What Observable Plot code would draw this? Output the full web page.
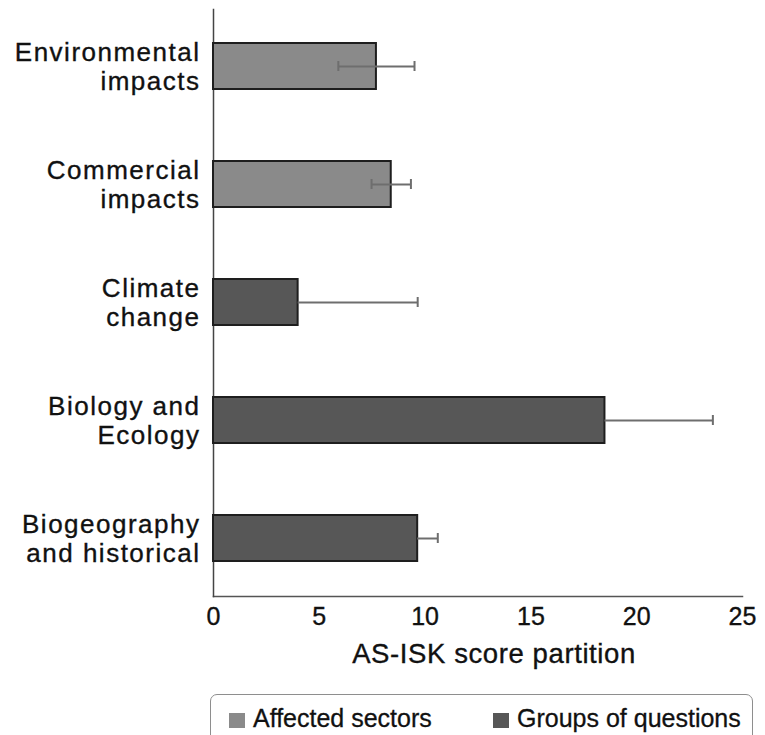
<!DOCTYPE html>
<html>
<head>
<meta charset="utf-8">
<script src="https://cdn.jsdelivr.net/npm/d3@7"></script>
<script src="https://cdn.jsdelivr.net/npm/@observablehq/plot@0.6"></script>
<style>
  body { margin: 0; background: #fff; font-family: "Liberation Sans", Arial, sans-serif; }
  #wrap { position: relative; width: 765px; height: 735px; overflow: hidden; }
  svg text { stroke: #111; stroke-width: 0.35px; }
  svg [aria-label="y-axis tick label"] text { letter-spacing: 1.5px; }
  .title { position: absolute; left: 294px; top: 640px; width: 400px; text-align: center;
    font-size: 27.5px; line-height: 27.5px; letter-spacing: 0.6px; color: #111; -webkit-text-stroke: 0.35px #111; }
  .legend { position: absolute; left: 210px; top: 694px; width: 543px; height: 60px;
    border: 1.5px solid #8e8e8e; border-radius: 7px; box-sizing: border-box; }
  .item { position: absolute; top: 11px; font-size: 25px; color: #111; line-height: 25px; -webkit-text-stroke: 0.3px #111; }
  .sw { display: inline-block; width: 16px; height: 15px; margin-right: 8px; vertical-align: -1px; }
</style>
</head>
<body>
<div id="wrap"></div>
<script>
const categories = ["Environmental\nimpacts", "Commercial\nimpacts", "Climate\nchange", "Biology and\nEcology", "Biogeography\nand historical"];
const groups = ["Affected sectors", "Affected sectors", "Groups of questions", "Groups of questions", "Groups of questions"];
const values = [7.7, 8.4, 4.0, 18.5, 9.65];
const errors = [1.8, 0.93, 5.65, 5.1, 0.95];
const xTicks = [0, 5, 10, 15, 20, 25];
const xTitle = "AS-ISK score partition";
const groupNames = ["Affected sectors", "Groups of questions"];
const groupColors = ["#8a8a8a", "#575757"];

const data = categories.map((c, i) => ({
  cat: c, group: groups[i], value: values[i],
  hi: values[i] + errors[i],
  lo: groups[i] === "Affected sectors" ? values[i] - errors[i] : values[i]
}));
const twoSided = data.filter(d => d.group === "Affected sectors");

const chart = Plot.plot({
  width: 765,
  height: 690,
  marginLeft: 213,
  marginRight: 23,
  marginTop: 9,
  marginBottom: 94,
  style: { fontFamily: "'Liberation Sans', Arial, sans-serif", background: "#fff", color: "#111" },
  x: { domain: [0, 25] },
  y: { domain: categories, paddingInner: 0.61, paddingOuter: 0.29 },
  color: { domain: groupNames, range: groupColors },
  marks: [
    Plot.frame({ anchor: "bottom", stroke: "#555", strokeWidth: 1.5 }),
    Plot.frame({ anchor: "left", stroke: "#444", strokeWidth: 1.5 }),
    Plot.barX(data, { x: "value", y: "cat", fill: "group", stroke: "#1e1e1e", strokeWidth: 2 }),
    Plot.ruleY(data, { y: "cat", x1: "lo", x2: "hi", stroke: "#6e6e6e", strokeWidth: 2 }),
    Plot.tickX(data, { x: "hi", y: "cat", stroke: "#6e6e6e", strokeWidth: 2, insetTop: 18, insetBottom: 18 }),
    Plot.tickX(twoSided, { x: "lo", y: "cat", stroke: "#6e6e6e", strokeWidth: 2, insetTop: 18, insetBottom: 18 }),
    Plot.axisY({ tickSize: 0, tickPadding: 13, fontSize: 26, lineHeight: 1.1, label: null }),
    Plot.axisX({ ticks: xTicks, tickSize: 0, tickPadding: 11, fontSize: 25, label: null })
  ]
});
const wrap = document.getElementById("wrap");
wrap.appendChild(chart);

const title = document.createElement("div");
title.className = "title";
title.textContent = xTitle;
wrap.appendChild(title);

const legend = document.createElement("div");
legend.className = "legend";
const lx = [18, 282];
groupNames.forEach((g, i) => {
  const it = document.createElement("div");
  it.className = "item";
  it.style.left = lx[i] + "px";
  const sw = document.createElement("span");
  sw.className = "sw";
  sw.style.background = groupColors[i];
  it.appendChild(sw);
  it.appendChild(document.createTextNode(g));
  legend.appendChild(it);
});
wrap.appendChild(legend);
</script>
</body>
</html>
